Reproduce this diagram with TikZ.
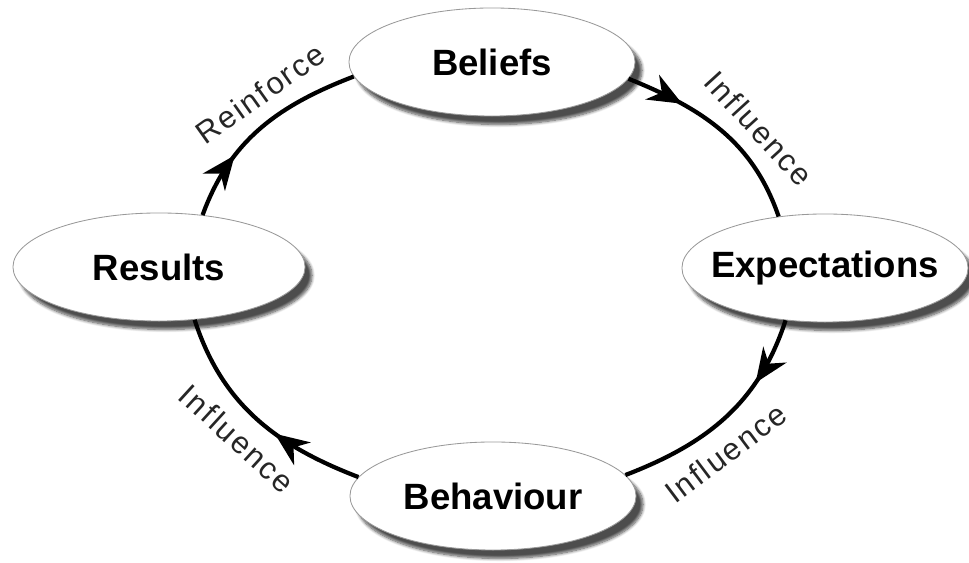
\documentclass[tikz,border=0pt]{standalone}
\usepackage{fontspec}
\setmainfont{Liberation Sans}
\newfontfamily\lblfont[LetterSpace=7]{Liberation Sans}
\usetikzlibrary{shapes.geometric,arrows.meta,decorations.markings,shadows.blur}

\tikzset{
  stage/.style={ellipse, draw=black!40, line width=0.6pt, fill=white,
    minimum width=7.15cm, minimum height=2.7cm, inner xsep=-1cm,
    font=\fontsize{26}{30}\selectfont\bfseries,
    blur shadow={shadow xshift=5pt, shadow yshift=-6pt,
      shadow blur steps=8, shadow opacity=70}},
  ring/.style={line width=3pt},
  tipat/.style={postaction={decorate, decoration={markings,
    mark=at position #1 with {\arrow{Stealth[length=0.85cm,width=0.7cm,inset=0.27cm]}}}}},
  lbl/.style={sloped, font=\lblfont\fontsize{22}{26}\selectfont,
    inner sep=10pt, text=black!85}
}

\begin{document}
\begin{tikzpicture}[x=0.025cm, y=0.025cm, auto]
        \useasboundingbox (0,0) rectangle (969,563);
        \node[stage] (beliefs) at (492,501) {Beliefs};
        \node[stage] (expect) at (825,295) {Expectations};
        \node[stage] (behav) at (493,67) {Behaviour};
        \node[stage, minimum width=7.3cm] (results) at (159,296) {Results};
        \path[ring]
            (beliefs.-7)
                edge [out=-22, in=109, tipat=0.28] node[lbl, pos=0.62] {Influence} (expect.132)
            (expect.-127)
                edge [out=-108, in=21, tipat=0.3] node[lbl, swap, pos=0.6] {Influence} (behav.9)
            (behav.172)
                edge [out=159, in=-72, tipat=0.4] node[lbl, swap, pos=0.5] {Influence} (results.-56)
            (results.50)
                edge [out=70, in=-159, tipat=0.32] node[lbl, pos=0.6] {Reinforce} (beliefs.186);
    \end{tikzpicture}
\end{document}
